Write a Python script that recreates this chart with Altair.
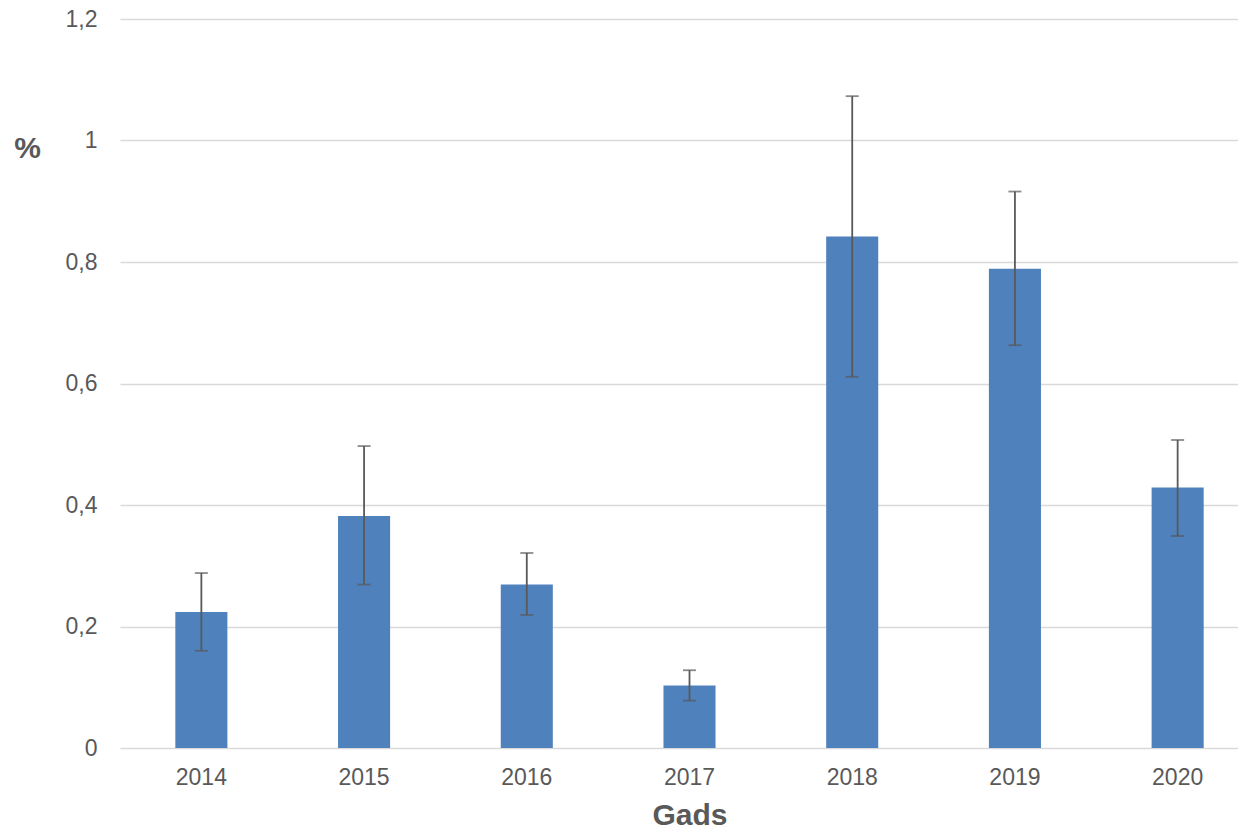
import altair as alt
import pandas as pd

years = ["2014", "2015", "2016", "2017", "2018", "2019", "2020"]
values = [0.224, 0.382, 0.269, 0.103, 0.842, 0.789, 0.429]
err_low = [0.160, 0.269, 0.219, 0.078, 0.611, 0.663, 0.349]
err_high = [0.288, 0.497, 0.321, 0.128, 1.073, 0.916, 0.507]
y_ticks = [0, 0.2, 0.4, 0.6, 0.8, 1, 1.2]

df = pd.DataFrame({"year": years, "value": values, "low": err_low, "high": err_high})

FONT = "Liberation Sans"
GREY = "#595959"

x_axis = alt.Axis(
    title="Gads",
    labelAngle=0,
    domain=False,
    ticks=False,
    grid=False,
    labelPadding=18,
    labelFontSize=23,
    labelColor=GREY,
    labelFont=FONT,
    titleFont=FONT,
    titleFontSize=30,
    titleFontWeight="bold",
    titleColor=GREY,
    titleY=67,
    titleBaseline="middle",
)

y_axis = alt.Axis(
    values=y_ticks,
    labelExpr="replace(toString(datum.value), '.', ',')",
    title="%",
    titleAngle=0,
    titleX=-93,
    titleY=129,
    titleAlign="center",
    titleBaseline="middle",
    titleFont=FONT,
    titleFontSize=30,
    titleFontWeight="bold",
    titleColor=GREY,
    domain=False,
    ticks=False,
    labelPadding=23,
    labelFontSize=23,
    labelColor=GREY,
    labelFont=FONT,
    gridColor="#D9D9D9",
    gridWidth=1.5,
)

x_scale = alt.Scale(range=[0, 1139], paddingInner=0.68, paddingOuter=0.34)
y_scale = alt.Scale(domain=[0, 1.2], nice=False)

def xe():
    return alt.X("year:N", sort=years, scale=x_scale, axis=x_axis)

bars = alt.Chart(df).mark_bar(color="#4F81BD").encode(
    x=xe(), y=alt.Y("value:Q", scale=y_scale, axis=y_axis)
)

rules = alt.Chart(df).mark_rule(color=GREY, strokeWidth=1.8).encode(
    x=xe(),
    y=alt.Y("low:Q", scale=y_scale, axis=y_axis),
    y2="high:Q",
)

caps_hi = alt.Chart(df).mark_tick(color=GREY, size=13, thickness=1.8, orient="horizontal").encode(
    x=xe(), y=alt.Y("high:Q", scale=y_scale, axis=y_axis)
)
caps_lo = alt.Chart(df).mark_tick(color=GREY, size=13, thickness=1.8, orient="horizontal").encode(
    x=xe(), y=alt.Y("low:Q", scale=y_scale, axis=y_axis)
)

chart = (
    alt.layer(bars, rules, caps_hi, caps_lo)
    .properties(
        width=1118,
        height=729,
        background="white",
        autosize=alt.AutoSizeParams(type="none"),
        padding={"left": 112, "top": 11, "right": 0, "bottom": 80},
    )
    .configure_view(strokeWidth=0, stroke="transparent")
    .configure_axis(domain=False, ticks=False)
)

chart.save("out.html", embed_options={"renderer": "svg", "actions": False})
